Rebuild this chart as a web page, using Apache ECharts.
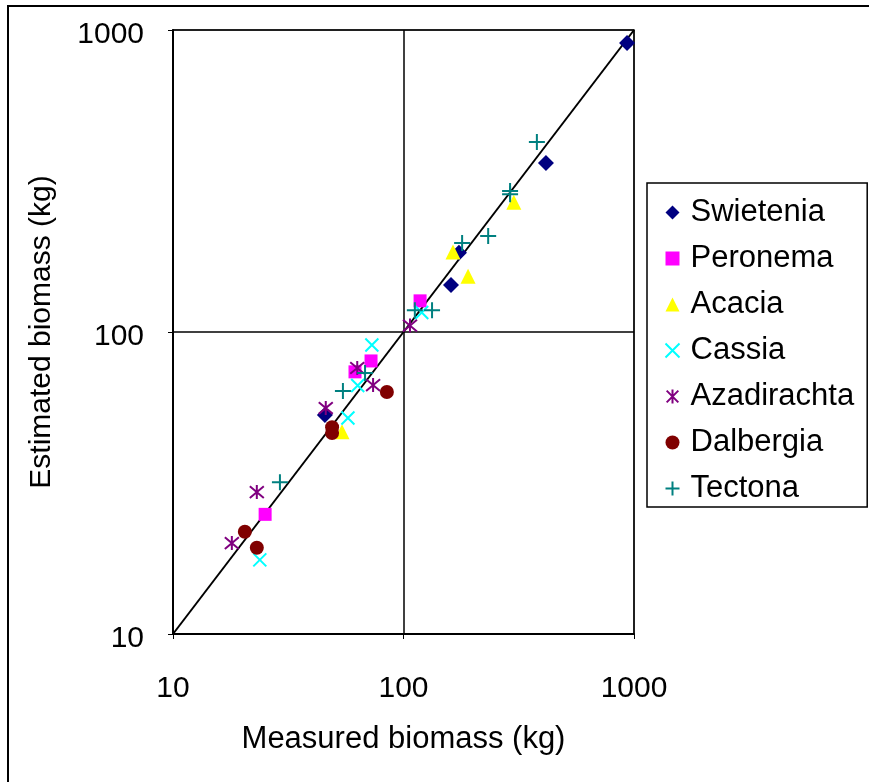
<!DOCTYPE html>
<html><head><meta charset="utf-8">
<script src="https://cdn.jsdelivr.net/npm/echarts@6/dist/echarts.min.js"></script>
<style>html,body{margin:0;padding:0;background:#fff}#c{width:869px;height:782px}</style>
</head><body><div id="c"></div>
<script>
const speciesNames = ['Swietenia','Peronema','Acacia','Cassia','Azadirachta','Dalbergia','Tectona'];
const swietenia = [[45.6,53.1],[160.7,143],[174,183],[415,363],[933,906]];
const peronema = [[25.1,24.9],[61.6,73.8],[72.3,80.2],[118,126.8]];
const acacia = [[54.1,46.7],[164,184],[190.6,153],[301,269]];
const cassia = [[23.8,17.6],[57.4,51.9],[63.3,66.5],[72.9,90.6],[120,116]];
const azadirachta = [[18.0,20.0],[23.1,29.5],[46,56],[63,76],[73.8,66.7],[106.7,105]];
const dalbergia = [[20.5,21.8],[23.1,19.3],[49,48.4],[49,46.3],[84.7,63.3]];
const tectona = [[29.1,31.8],[54.6,63.8],[68.1,73.1],[112,118],[133,118],[179.6,197],[233,208],[290,293],[290,286],[379,426]];
const oneToOne = [[10,10],[1000,1000]];
const tickValues = [10,100,1000];

const FONT = 'Liberation Sans, Arial, sans-serif';
const chart = echarts.init(document.getElementById('c'));
function sc(name, data, symbol, size, color, stroke){
  const s = {name, type:'scatter', data, symbol, symbolSize:size, z:3};
  if (stroke) s.itemStyle = {color:'none', borderColor:color, borderWidth:2, opacity:1};
  else s.itemStyle = {color, opacity:1};
  return s;
}
chart.setOption({
  animation:false,
  backgroundColor:'#fff',
  textStyle:{fontFamily:FONT},
  graphic:[{type:'rect', shape:{x:8,y:6,width:900,height:900}, style:{fill:'none',stroke:'#000',lineWidth:2}, z:-10}],
  grid:{left:173,right:235,top:30,bottom:148,show:true,borderColor:'#808080',borderWidth:2,backgroundColor:'#fff'},
  legend:{
    orient:'vertical', left:647, top:183,
    data:speciesNames,
    borderColor:'#000', borderWidth:1.5, padding:[14,13,3,16],
    itemWidth:14, itemHeight:14, itemGap:15,
    textStyle:{fontSize:31, color:'#000', fontFamily:FONT, padding:[0,0,0,6]},
    backgroundColor:'#fff'
  },
  xAxis:{
    type:'log', logBase:10, min:10, max:1000,
    name:'Measured biomass (kg)', nameLocation:'middle', nameGap:90,
    nameTextStyle:{fontSize:31,color:'#000',fontFamily:FONT},
    axisLine:{show:true,onZero:false,lineStyle:{color:'#000',width:2}},
    axisTick:{show:true,length:5,lineStyle:{color:'#000',width:1}},
    axisLabel:{fontSize:30,color:'#000',margin:40,fontFamily:FONT,
      formatter:v=>String(Math.round(v))},
    splitLine:{show:true,lineStyle:{color:'#000',width:1.5}},
    minorTick:{show:false}
  },
  yAxis:{
    type:'log', logBase:10, min:10, max:1000,
    name:'Estimated biomass (kg)', nameLocation:'middle', nameGap:116,
    nameTextStyle:{fontSize:30,color:'#000',fontFamily:FONT},
    axisLine:{show:true,onZero:false,lineStyle:{color:'#000',width:2}},
    axisTick:{show:true,length:5,lineStyle:{color:'#000',width:1}},
    axisLabel:{fontSize:30,color:'#000',margin:29,fontFamily:FONT,verticalAlign:'top',lineHeight:10,formatter:v=>String(Math.round(v))},
    splitLine:{show:true,lineStyle:{color:'#000',width:1.5}}
  },
  series:[
    {name:'1:1', type:'line', data:oneToOne, symbol:'none', lineStyle:{color:'#000',width:2}, z:2},
    sc('Swietenia', swietenia, 'diamond', 16, '#000080'),
    sc('Peronema', peronema, 'rect', 13, '#FF00FF'),
    sc('Acacia', acacia, 'triangle', 15, '#FFFF00'),
    sc('Cassia', cassia, 'path://M0,0L10,10M10,0L0,10', 13, '#00FFFF', true),
    sc('Azadirachta', azadirachta, 'path://M0,0L10,10M10,0L0,10M5,-1L5,11', 14, '#800080', true),
    sc('Dalbergia', dalbergia, 'circle', 14, '#800000'),
    sc('Tectona', tectona, 'path://M5,0L5,10M0,5L10,5', 16, '#008080', true)
  ]
});
</script></body></html>
